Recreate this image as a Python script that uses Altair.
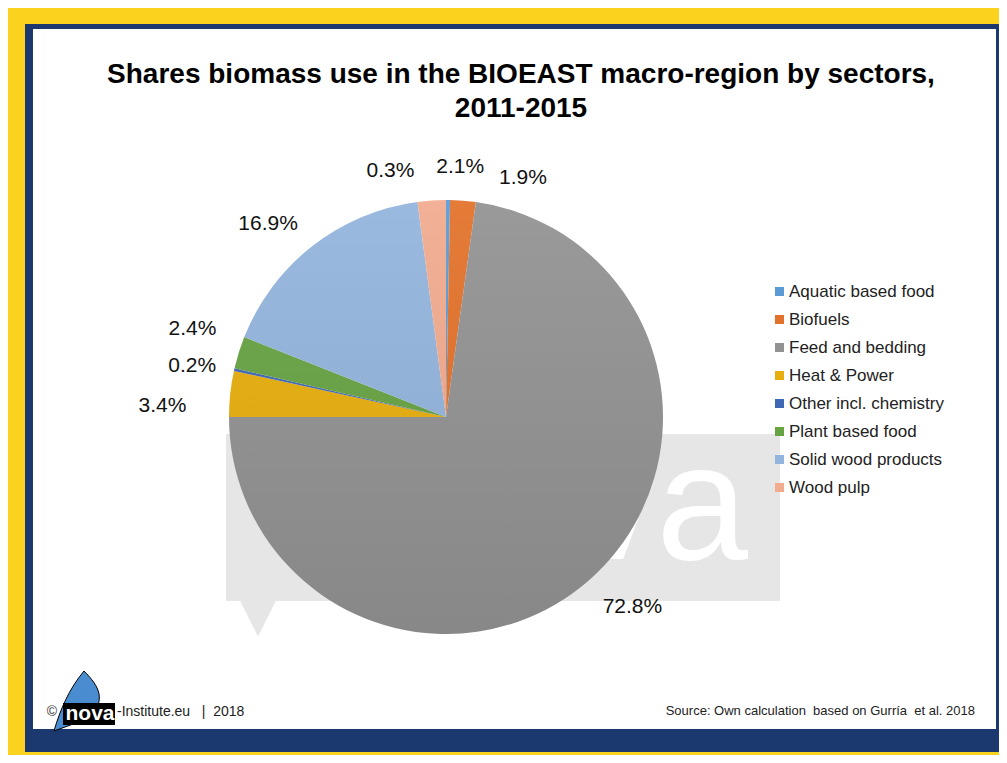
import altair as alt
import pandas as pd

# ---------------- data ----------------
categories = ["Aquatic based food", "Biofuels", "Feed and bedding", "Heat & Power",
              "Other incl. chemistry", "Plant based food", "Solid wood products", "Wood pulp"]
shares = [0.3, 1.9, 72.8, 3.4, 0.2, 2.4, 16.9, 2.1]
labels = ["0.3%", "1.9%", "72.8%", "3.4%", "0.2%", "2.4%", "16.9%", "2.1%"]
colors = ["#5B9BD5", "#E2712A", "#929292", "#E8AE0C", "#3F67B5", "#67A343", "#93B4DD", "#F1AB8E"]

title_lines = ["Shares biomass use in the BIOEAST macro-region by sectors,", "2011-2015"]
NB = "\u00a0"
source_text = f"Source: Own calculation{NB} based on Gurría{NB} et al. 2018"
footer_text = f"-Institute.eu{NB}{NB} |{NB} 2018"

df = pd.DataFrame({"category": categories, "share": shares, "label": labels,
                   "order": list(range(len(categories)))})

# ---------------- layout (canvas px) ----------------
W, H = 991, 747
CX, CY, R = 438, 409, 217
FONT = "Liberation Sans"
one = pd.DataFrame({"a": [0]})

def rect(x, x2, y, y2, color):
    return alt.Chart(one).mark_rect(color=color).encode(
        x=alt.value(x), x2=alt.value(x2), y=alt.value(y), y2=alt.value(y2))

def txt(text, x, y, size, **kw):
    return alt.Chart(one).mark_text(text=text, fontSize=size, font=FONT, **kw).encode(
        x=alt.value(x), y=alt.value(y))

frame_blue = rect(17, 991, 16, 744, "#1B396F")
frame_white = rect(25, 988, 21, 721, "#FFFFFF")

# watermark
wm_box = rect(218, 772, 426, 593, "#E6E6E6")
wm_tail = alt.Chart(one).mark_point(shape="M-1,-1 L1,-1 L0,1 Z", filled=True, opacity=1,
                                    color="#E6E6E6", size=2200).encode(
    x=alt.value(250), y=alt.value(605))
wm_text = txt("nova", 740, 551, 165, color="#FFFFFF", align="right", baseline="alphabetic")

color_scale = alt.Scale(domain=categories, range=colors)

pie = alt.Chart(df).mark_arc(radius=R).encode(
    theta=alt.Theta("share:Q", stack=True, scale=alt.Scale(domain=[0, 100])),
    color=alt.Color("category:N", scale=color_scale, sort=categories,
                    legend=alt.Legend(title=None, orient="none", legendX=763, legendY=275,
                                      direction="vertical", symbolType="square",
                                      symbolSize=81, symbolStrokeWidth=0,
                                      labelFont=FONT, labelFontSize=17, labelColor="#222222",
                                      rowPadding=10, labelOffset=1, padding=0, labelLimit=300)),
    order=alt.Order("order:Q"),
    x=alt.value(CX), y=alt.value(CY),
)

shade = alt.Chart(one).mark_arc(
    radius=R,
    fill=alt.Gradient(gradient="linear",
                      stops=[alt.GradientStop(color="rgba(255,255,255,0.07)", offset=0),
                             alt.GradientStop(color="rgba(0,0,0,0.07)", offset=1)],
                      x1=0, x2=0, y1=0, y2=1)
).encode(theta=alt.value(0), theta2=alt.value(6.2832), x=alt.value(CX), y=alt.value(CY))

# labels: positioned at slice mid-angles, with small nudges like Excel's collision avoidance
nudges = {
    "Aquatic based food": (-58, 9),
    "Biofuels": (57, 15),
    "Feed and bedding": (19, -2),
    "Heat & Power": (-30, 16),
    "Other incl. chemistry": (-5, 5),
    "Plant based food": (-10, -12),
    "Solid wood products": (-21, 8),
    "Wood pulp": (31, 4),
}
base = alt.Chart(df).transform_window(
    cum="sum(share)", sort=[alt.SortField("order")]
).transform_calculate(mid="datum.cum - datum.share / 2")

label_layers = []
for c in categories:
    dx, dy = nudges[c]
    label_layers.append(
        base.transform_filter(alt.datum.category == c).mark_text(
            radius=255, dx=dx, dy=dy, fontSize=21, font=FONT, color="#111111",
            align="center", baseline="middle"
        ).encode(theta=alt.Theta("mid:Q", scale=alt.Scale(domain=[0, 100])),
                 text="label:N", x=alt.value(CX), y=alt.value(CY))
    )

title1 = txt(title_lines[0], 513, 74.5, 28, fontWeight="bold", color="#000000",
             align="center", baseline="alphabetic")
title2 = txt(title_lines[1], 513, 108.5, 28, fontWeight="bold", color="#000000",
             align="center", baseline="alphabetic")

# footer
copy_sym = txt("©", 44, 704, 14, color="#333333", align="center", baseline="middle")
sail = alt.Chart(one).mark_point(
    shape="M0.2,-1 C0.7,-0.5 1,0 0.3,0.6 L-0.8,1 C-0.6,0.3 -0.3,-0.4 0.2,-1 Z",
    filled=True, opacity=1, color="#4A8CD0", stroke="#000000", strokeWidth=1, size=3600
).encode(x=alt.value(70), y=alt.value(693))
logo_box = rect(55, 107, 695, 717, "#000000")
logo_text = txt("nova", 82, 712, 21, color="#FFFFFF", align="center", baseline="alphabetic",
                fontWeight="bold")
footer = txt(footer_text, 109, 704, 14, color="#222222", align="left", baseline="middle")
source = txt(source_text, 967, 703, 13, color="#222222", align="right", baseline="middle")

chart = alt.layer(
    frame_blue, frame_white, wm_box, wm_tail, wm_text, pie, shade, *label_layers,
    title1, title2, sail, logo_box, logo_text, copy_sym, footer, source
).properties(
    width=W, height=H, background="#FBD21E", padding=0, autosize="none"
).configure_view(stroke=None)

chart.save("out.html", embed_options={"renderer": "svg", "actions": False})
